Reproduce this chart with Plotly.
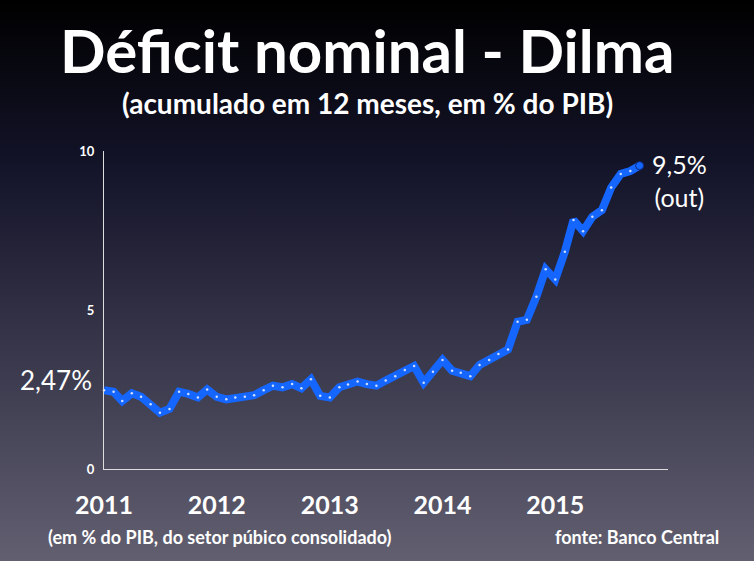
import plotly.graph_objects as go
import pandas as pd
import base64

dates = pd.date_range("2011-01-01", periods=58, freq="MS")
values = [2.48, 2.43, 2.14, 2.38, 2.27, 2.04, 1.77, 1.89, 2.43, 2.36, 2.25, 2.50,
          2.27, 2.19, 2.25, 2.27, 2.32, 2.48, 2.62, 2.57, 2.67, 2.54, 2.82, 2.30,
          2.25, 2.57, 2.66, 2.75, 2.67, 2.62, 2.78, 2.92, 3.11, 3.24, 2.71, 3.06,
          3.43, 3.09, 3.03, 2.92, 3.27, 3.43, 3.62, 3.76, 4.63, 4.69, 5.42, 6.28,
          5.96, 6.83, 7.83, 7.48, 7.93, 8.14, 8.85, 9.28, 9.37, 9.54]
year_ticks = ["2011-01-01", "2012-01-01", "2013-01-01", "2014-01-01", "2015-01-01"]
year_labels = ["2011", "2012", "2013", "2014", "2015"]
y_ticks = [0, 5, 10]

W, H = 754, 561
L, R, T, B = 104, 86, 151, 92
pw, ph = W - L - R, H - T - B

svg = ('<svg xmlns="http://www.w3.org/2000/svg" width="754" height="561" preserveAspectRatio="none">'
       '<defs><linearGradient id="g" x1="0" y1="0" x2="0" y2="1">'
       '<stop offset="0" stop-color="#000000"/><stop offset="0.3" stop-color="#14142a"/>'
       '<stop offset="1" stop-color="#615f70"/></linearGradient></defs>'
       '<rect width="754" height="561" fill="url(#g)"/></svg>')
bg = "data:image/svg+xml;base64," + base64.b64encode(svg.encode()).decode()

F = "Lato, 'Open Sans', sans-serif"
fig = go.Figure()
fig.add_trace(go.Scatter(x=dates, y=values, mode="lines+markers",
                         line=dict(color="#1466ff", width=8),
                         marker=dict(size=2.5, color="#cfe0ff"),
                         cliponaxis=False, hoverinfo="skip"))
fig.add_trace(go.Scatter(x=[dates[-1]], y=[values[-1]], mode="markers",
                         marker=dict(size=8, color="#1466ff", line=dict(color="#0a2a80", width=1)),
                         cliponaxis=False, hoverinfo="skip"))

def px(xp):
    return (xp - L) / pw

def py(yp):
    return (H - B - yp) / ph

texts = [
    ("<b>Déficit nominal - Dilma</b>", 367, 50, 60),
    ("<b>(acumulado em 12 meses, em % do PIB)</b>", 367, 103, 28),
    ("2,47%", 56, 380, 26),
    ("9,5%<br>(out)", 679, 180, 25),
    ("<b>(em % do PIB, do setor púbico consolidado)</b>", 220, 537, 18),
    ("<b>fonte: Banco Central</b>", 637, 537, 18),
]
annots = [dict(text=t, x=px(x), y=py(y), xref="paper", yref="paper", xanchor="center",
               yanchor="middle", showarrow=False, align="center",
               font=dict(family=F, size=s, color="white")) for t, x, y, s in texts]

fig.update_layout(
    width=W, height=H, showlegend=False,
    margin=dict(l=L, r=R, t=T, b=B),
    paper_bgcolor="black", plot_bgcolor="rgba(0,0,0,0)",
    images=[dict(source=bg, xref="paper", yref="paper", x=px(0), y=py(0),
                 sizex=W / pw, sizey=H / ph, xanchor="left", yanchor="top",
                 sizing="stretch", layer="below")],
    xaxis=dict(type="date", range=["2011-01-01", "2016-01-01"], tickvals=year_ticks,
               ticktext=year_labels, showgrid=False, zeroline=False, showline=True,
               linecolor="#dddddd", linewidth=1, ticks="",
               tickfont=dict(family=F, size=25, color="white", weight="bold"),
               ticklabelstandoff=14),
    yaxis=dict(range=[0, 10], tickvals=y_ticks, showgrid=False, zeroline=False,
               showline=True, linecolor="#dddddd", linewidth=1, ticks="",
               tickfont=dict(family=F, size=13, color="white", weight="bold"),
               ticklabelstandoff=6),
    annotations=annots,
)
fig.write_html("out.html", config={"displayModeBar": False},
               post_script="document.body.style.margin='0';")
